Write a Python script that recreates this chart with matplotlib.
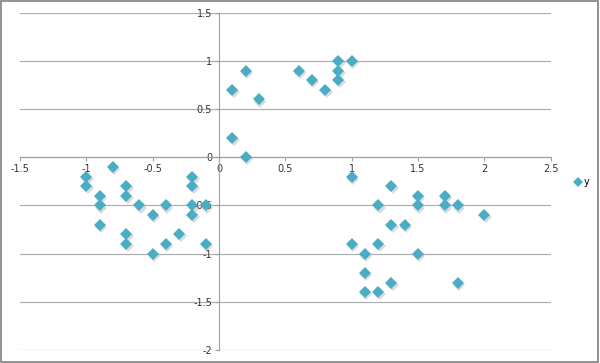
import matplotlib.pyplot as plt
import matplotlib.transforms as mtransforms
from matplotlib.lines import Line2D
import numpy as np

# data
x = [0.1, 0.2, 0.3, 0.1, 0.2, 0.6, 0.7, 0.8, 0.9, 0.9, 0.9, 1.0,
     -0.8, -1.0, -1.0, -0.9, -0.9, -0.9, -0.7, -0.7, -0.7, -0.7,
     -0.6, -0.5, -0.5, -0.4, -0.4, -0.3, -0.2, -0.2, -0.2, -0.2, -0.1, -0.1,
     1.0, 1.3, 1.5, 1.7, 1.2, 1.5, 1.7, 1.8, 2.0, 1.3, 1.4, 1.0, 1.2,
     1.1, 1.5, 1.1, 1.3, 1.8, 1.1, 1.2]
y = [0.7, 0.9, 0.6, 0.2, 0.0, 0.9, 0.8, 0.7, 1.0, 0.9, 0.8, 1.0,
     -0.1, -0.2, -0.3, -0.4, -0.5, -0.7, -0.3, -0.4, -0.8, -0.9,
     -0.5, -0.6, -1.0, -0.5, -0.9, -0.8, -0.2, -0.3, -0.5, -0.6, -0.5, -0.9,
     -0.2, -0.3, -0.4, -0.4, -0.5, -0.5, -0.5, -0.5, -0.6, -0.7, -0.7, -0.9, -0.9,
     -1.0, -1.0, -1.2, -1.3, -1.3, -1.4, -1.4]
x_ticks = [-1.5, -1, -0.5, 0, 0.5, 1, 1.5, 2, 2.5]
y_ticks = [-2, -1.5, -1, -0.5, 0, 0.5, 1, 1.5]

color = '#4bacc6'

fig = plt.figure(figsize=(6, 3.63), dpi=100)
ax = fig.add_axes([20 / 600, 1 - 350 / 363, 530.7 / 600, 337.3 / 363])

# soft shadow under each marker
shadow = mtransforms.offset_copy(ax.transData, fig=fig, x=1.0, y=-1.5, units='points')
ax.plot(x, y, linestyle='none', marker='D', markersize=6.6, color='#888888',
        alpha=0.3, markeredgewidth=0, transform=shadow, zorder=3)
ax.plot(x, y, linestyle='none', marker='D', markersize=6.6, color=color,
        markeredgewidth=0, zorder=4)

ax.set_xlim(-1.5, 2.5)
ax.set_ylim(-2, 1.5)
ax.set_xticks(x_ticks)
ax.set_yticks(y_ticks)
ax.set_xticklabels([f'{v:g}' for v in x_ticks])
ax.set_yticklabels([f'{v:g}' for v in y_ticks])

for side in ['top', 'right']:
    ax.spines[side].set_visible(False)
ax.spines['left'].set_position(('data', 0))
ax.spines['bottom'].set_position(('data', 0))
for side in ['left', 'bottom']:
    ax.spines[side].set_color('#a0a0a0')
    ax.spines[side].set_linewidth(0.8)

ax.yaxis.grid(True, color='#b0b0b0', linewidth=0.9)
ax.set_axisbelow(True)
ax.tick_params(axis='both', direction='out', length=3, width=0.8,
               color='#a0a0a0', labelsize=7, labelcolor='#333333', pad=2)

# legend to the right of the plot
handle = Line2D([], [], linestyle='none', marker='D', markersize=5, color=color,
                markeredgewidth=0)
fig.legend([handle], ['y'], loc='center left', bbox_to_anchor=(573 / 600, 1 - 182 / 363),
           frameon=False, fontsize=7, handletextpad=0.1, handlelength=1,
           borderaxespad=0, borderpad=0)

# outer frame
fig.patches.append(plt.Rectangle((0.002, 0.003), 0.995, 0.994, transform=fig.transFigure,
                                 fill=False, edgecolor='#7f7f7f', linewidth=1.2))

fig.savefig('out.png', dpi=100)
